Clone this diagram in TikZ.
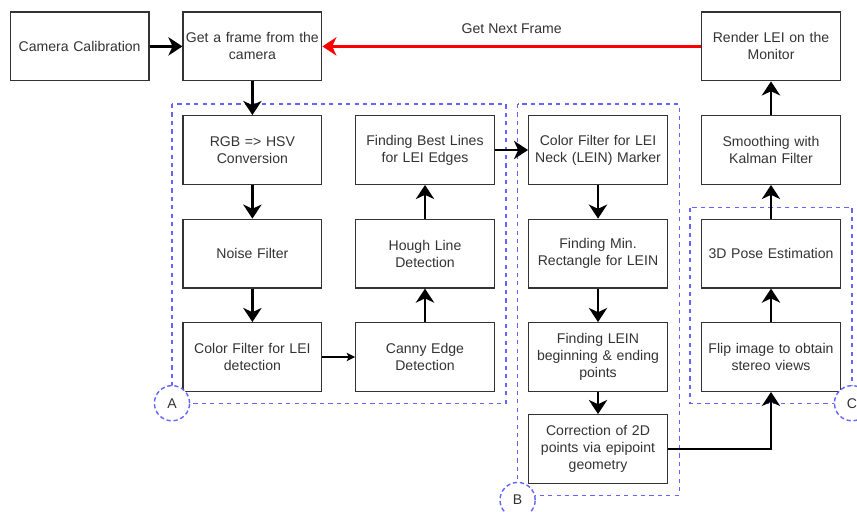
\documentclass[tikz,border=0pt]{standalone}
\usepackage{fontspec}
\setmainfont{Liberation Sans}
\usetikzlibrary{arrows.meta}

\definecolor{grpblue}{RGB}{100,100,255}
\definecolor{boxgray}{RGB}{51,51,51}

\tikzset{
    stepbox/.style={draw=boxgray, line width=0.8pt, minimum width=3.47cm, minimum height=1.72cm,
        text width=3.45cm, inner xsep=0pt, align=center, text=boxgray, font=\fontsize{10}{12}\selectfont},
    flow/.style={line width=2pt, -{Stealth[length=10pt,width=13pt,inset=3pt]}},
    thinflow/.style={line width=0.8pt, -{Stealth[length=6pt,width=6pt,inset=1.5pt]}},
    group/.style={draw=grpblue, dashed, line width=0.8pt},
    tag/.style={circle, draw=grpblue, densely dashed, fill=white, minimum size=0.88cm,
        inner sep=0pt, line width=1pt, text=boxgray, font=\fontsize{10}{12}\selectfont}
}

\begin{document}
\begin{tikzpicture}
        \useasboundingbox (0,0) rectangle (21.425,-12.775);

        % Draw the dashed groups
        \draw[group] (4.3,-2.6) rectangle (12.65,-10.08);
        \draw[group] (12.94,-2.6) rectangle (16.98,-12.38);
        \draw[group] (17.25,-5.19) rectangle (21.3,-10.08);

        % Draw the top row
        \node[stepbox] (calib) at (1.99,-1.16) {Camera Calibration};
        \node[stepbox] (frame) at (6.31,-1.16) {Get a frame from the\\camera};
        \node[stepbox] (render) at (19.275,-1.16) {Render LEI on the\\Monitor};

        % Draw group A
        \node[stepbox] (rgb) at (6.31,-3.75) {RGB =\textgreater{} HSV\\Conversion};
        \node[stepbox] (noise) at (6.31,-6.34) {Noise Filter};
        \node[stepbox] (lei) at (6.31,-8.925) {Color Filter for LEI\\detection};
        \node[stepbox] (best) at (10.625,-3.75) {Finding Best Lines\\for LEI Edges};
        \node[stepbox] (hough) at (10.625,-6.34) {Hough Line\\Detection};
        \node[stepbox] (canny) at (10.625,-8.925) {Canny Edge\\Detection};

        % Draw group B
        \node[stepbox] (lein) at (14.95,-3.75) {Color Filter for LEI\\Neck (LEIN) Marker};
        \node[stepbox] (minrect) at (14.95,-6.34) {Finding Min.\\Rectangle for LEIN};
        \node[stepbox] (ends) at (14.95,-8.925) {Finding LEIN\\beginning \& ending\\points};
        \node[stepbox] (correct) at (14.95,-11.225) {Correction of 2D\\points via epipoint\\geometry};

        % Draw group C and the output column
        \node[stepbox] (smooth) at (19.275,-3.75) {Smoothing with\\Kalman Filter};
        \node[stepbox] (pose) at (19.275,-6.34) {3D Pose Estimation};
        \node[stepbox] (flip) at (19.275,-8.925) {Flip image to obtain\\stereo views};

        % Draw the arrows
        \draw[flow] (calib) -- (frame);
        \draw[flow] (frame) -- (rgb);
        \draw[flow] (rgb) -- (noise);
        \draw[flow] (noise) -- (lei);
        \draw[thinflow] (lei) -- (canny);
        \draw[flow] (canny) -- (hough);
        \draw[flow] (hough) -- (best);
        \draw[flow] (best) -- (lein);
        \draw[flow] (lein) -- (minrect);
        \draw[flow] (minrect) -- (ends);
        \draw[flow] (ends) -- (correct);
        \draw[flow] (correct.east) -| (flip.south);
        \draw[flow] (flip) -- (pose);
        \draw[flow] (pose) -- (smooth);
        \draw[flow] (smooth) -- (render);

        % Draw the feedback loop
        \draw[flow, red] (render) -- (frame)
            node[midway, above=5pt, text=boxgray, font=\fontsize{10}{12}\selectfont] (nextlbl) {Get Next Frame};

        % Draw the group tags
        \node[tag] (tagA) at (4.3,-10.08) {A};
        \node[tag] (tagB) at (12.94,-12.5) {B};
        \node[tag] (tagC) at (21.3,-10.08) {C};
    \end{tikzpicture}
\end{document}
